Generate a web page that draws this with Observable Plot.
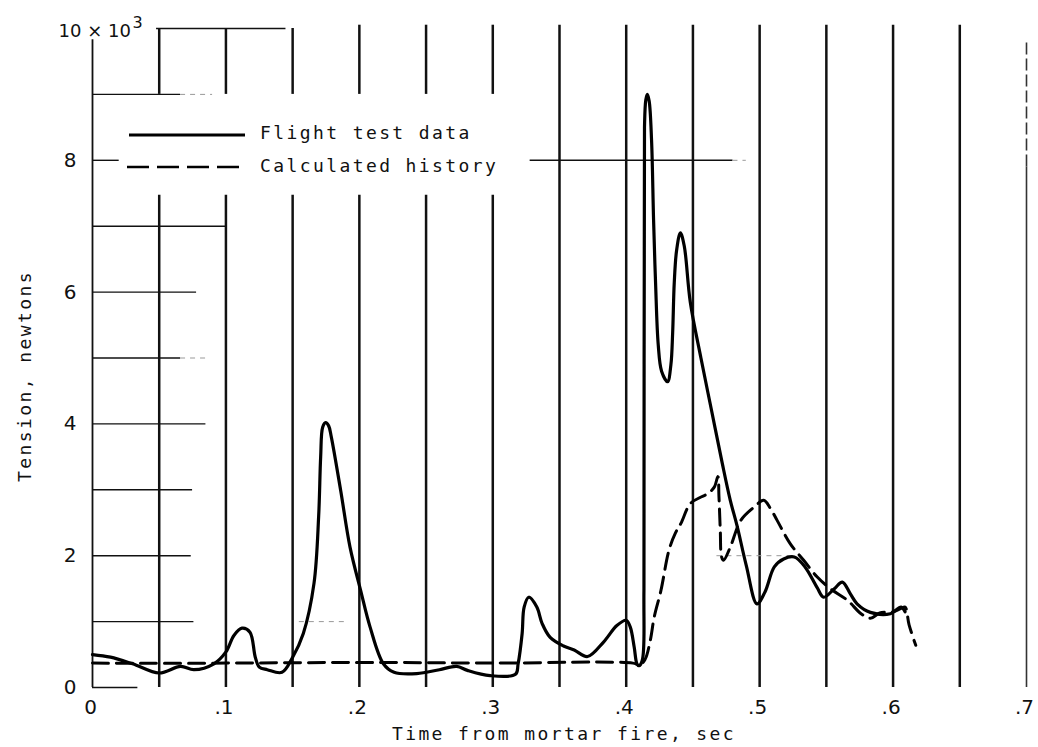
<!DOCTYPE html>
<html><head><meta charset="utf-8">
<script src="https://cdn.jsdelivr.net/npm/d3@7"></script>
<script src="https://cdn.jsdelivr.net/npm/@observablehq/plot@0.6"></script>
<style>body{margin:0;background:#fff}</style>
</head><body><div id="chart"></div>
<script>
// ---- Data (tension in thousands of newtons vs time in s) ----
const flightT = [0, 0.0135, 0.03, 0.05, 0.066, 0.076, 0.091, 0.1, 0.106, 0.112, 0.118, 0.122, 0.125, 0.131, 0.142, 0.150, 0.158, 0.166, 0.1695, 0.171, 0.1725, 0.1747, 0.177, 0.179, 0.186, 0.193, 0.201, 0.208, 0.218, 0.226, 0.243, 0.26, 0.273, 0.281, 0.298, 0.317, 0.319, 0.322, 0.3235, 0.327, 0.333, 0.337, 0.343, 0.353, 0.361, 0.371, 0.383, 0.393, 0.400, 0.403, 0.406, 0.408, 0.4095, 0.412, 0.4133, 0.4137, 0.4147, 0.4158, 0.4172, 0.419, 0.4205, 0.422, 0.424, 0.4265, 0.431, 0.4335, 0.4348, 0.436, 0.4378, 0.4406, 0.4435, 0.448, 0.456, 0.464, 0.472, 0.478, 0.483, 0.49, 0.498, 0.504, 0.511, 0.518, 0.526, 0.534, 0.543, 0.548, 0.556, 0.562, 0.568, 0.573, 0.583, 0.598, 0.606, 0.609];
const flightV = [0.50, 0.46, 0.36, 0.22, 0.32, 0.27, 0.36, 0.54, 0.79, 0.90, 0.84, 0.46, 0.31, 0.27, 0.23, 0.46, 0.82, 1.58, 2.6, 3.5, 3.95, 4.02, 3.97, 3.8, 2.99, 2.13, 1.47, 0.92, 0.36, 0.23, 0.21, 0.27, 0.32, 0.26, 0.18, 0.20, 0.36, 0.82, 1.22, 1.37, 1.22, 0.97, 0.76, 0.63, 0.57, 0.47, 0.69, 0.94, 1.02, 0.92, 0.61, 0.36, 0.33, 0.41, 1.5, 8.5, 8.92, 9.0, 8.9, 8.3, 7.1, 6.14, 5.2, 4.8, 4.64, 4.9, 5.38, 6.14, 6.64, 6.9, 6.7, 5.85, 5.0, 4.2, 3.4, 2.84, 2.46, 1.85, 1.27, 1.45, 1.83, 1.95, 1.98, 1.83, 1.52, 1.37, 1.50, 1.60, 1.42, 1.27, 1.14, 1.12, 1.22, 1.15];

const calcT = [0, 0.1, 0.2, 0.3, 0.405, 0.41, 0.414, 0.418, 0.421, 0.426, 0.432, 0.437, 0.441, 0.448, 0.455, 0.461, 0.466, 0.4687, 0.4695, 0.4705, 0.4715, 0.473, 0.478, 0.486, 0.496, 0.503, 0.508, 0.513, 0.523, 0.533, 0.543, 0.553, 0.566, 0.576, 0.583, 0.59, 0.6, 0.606, 0.609, 0.612, 0.617];
const calcV = [0.37, 0.37, 0.38, 0.37, 0.37, 0.34, 0.42, 0.71, 1.07, 1.47, 2.08, 2.35, 2.49, 2.79, 2.88, 2.94, 3.04, 3.2, 2.9, 2.39, 1.98, 1.93, 2.13, 2.54, 2.74, 2.84, 2.72, 2.54, 2.18, 1.93, 1.68, 1.50, 1.32, 1.12, 1.05, 1.13, 1.15, 1.2, 1.22, 0.95, 0.64];

const seriesNames = ["Flight test data", "Calculated history"];

const xTicks = [0, 0.1, 0.2, 0.3, 0.4, 0.5, 0.6, 0.7];
const xTickLabels = ["0", ".1", ".2", ".3", ".4", ".5", ".6", ".7"];
const yTicks = [0, 2, 4, 6, 8];
const yTickLabels = ["0", "2", "4", "6", "8"];
const yTopLabel = "10 × 10";
const yTopExp = "3";
const xTitle = "Time from mortar fire, sec";
const yTitle = "Tension, newtons";

// grid of the original chart paper
const gridT = [0.05, 0.1, 0.15, 0.2, 0.25, 0.3, 0.35, 0.4, 0.45, 0.5, 0.55, 0.6, 0.65];
const hLevels = [0, 1, 2, 3, 4, 5, 6, 7, 8, 9];
const hEnds = [0.034, 0.076, 0.074, 0.075, 0.085, 0.066, 0.078, 0.1, 0.02, 0.066];

// ---- build tables ----
const flight = flightT.map((t, i) => ({t, v: flightV[i]}));
const calc = calcT.map((t, i) => ({t, v: calcV[i]}));

const vSegs = [];
gridT.forEach(t => {
  if (t <= 0.3 + 1e-9) {
    vSegs.push({t, y1: 9.0, y2: t < 0.17 ? 10 : 10.05});
    vSegs.push({t, y1: 0, y2: 7.47});
  } else {
    vSegs.push({t, y1: 0, y2: 10.05});
  }
});
const hSegs = hLevels.map((y, i) => ({y, x1: 0, x2: hEnds[i]}));
hSegs.push({y: 10, x1: 0.048, x2: 0.145});
hSegs.push({y: 8, x1: 0.328, x2: 0.48});
const faint = [
  {y: 9, x1: 0.066, x2: 0.09},
  {y: 5, x1: 0.066, x2: 0.085},
  {y: 1, x1: 0.155, x2: 0.19},
  {y: 2, x1: 0.468, x2: 0.525},
  {y: 8, x1: 0.48, x2: 0.49}
];

const W = 1038, H = 747;
const tickFont = "DejaVu Sans, sans-serif";
const letterFont = "DejaVu Sans Mono, monospace";

const plot = Plot.plot({
  width: W, height: H,
  marginLeft: 92, marginRight: 12, marginTop: 28, marginBottom: 60,
  x: {domain: [0, 0.7], axis: null},
  y: {domain: [0, 10], axis: null},
  style: {background: "#fff", color: "#111"},
  marks: [
    Plot.ruleX(vSegs, {x: "t", y1: "y1", y2: "y2", stroke: "#111", strokeWidth: 2.5}),
    Plot.ruleX([0], {y1: 0, y2: 9.83, stroke: "#111", strokeWidth: 1.8}),
    Plot.ruleX([0.7], {y1: 0, y2: 7.9, stroke: "#333", strokeWidth: 1.6}),
    Plot.ruleX([0.7], {y1: 7.9, y2: 9.83, stroke: "#333", strokeWidth: 1.6, strokeDasharray: "12,4"}),
    Plot.ruleY(hSegs, {y: "y", x1: "x1", x2: "x2", stroke: "#111", strokeWidth: 1.4}),
    Plot.ruleY(faint, {y: "y", x1: "x1", x2: "x2", stroke: "#999", strokeWidth: 1, strokeDasharray: "5,5"}),
    Plot.line(calc, {x: "t", y: "v", stroke: "#000", strokeWidth: 3, strokeDasharray: "16,8", curve: "catmull-rom"}),
    Plot.line(flight, {x: "t", y: "v", stroke: "#000", strokeWidth: 3.2, curve: "catmull-rom"}),
    Plot.text(xTicks, {x: d => d, y: 0, text: (d, i) => xTickLabels[i], dy: 20, dx: -2, fontSize: 20, fontFamily: tickFont, fill: "#111"}),
    Plot.text(yTicks, {x: 0, y: d => d, text: (d, i) => yTickLabels[i], textAnchor: "end", dx: -16, fontSize: 20, fontFamily: tickFont, fill: "#111"}),
    Plot.text([10], {x: 0, y: d => d, text: () => yTopLabel, textAnchor: "start", dx: -34, dy: 3, fontSize: 18, fontFamily: tickFont, fill: "#111"}),
    Plot.text([10], {x: 0, y: d => d, text: () => yTopExp, textAnchor: "start", dx: 40, dy: -6, fontSize: 16, fontFamily: tickFont, fill: "#111"})
  ]
});

document.getElementById("chart").appendChild(plot);

// ---- legend and axis titles ----
const svg = d3.select(plot);
const g = svg.append("g").attr("fill", "#111").attr("font-family", letterFont).attr("font-size", 18)
  .attr("text-anchor", "start").style("letter-spacing", "2.4px");
g.append("line").attr("x1", 129).attr("x2", 245).attr("y1", 135).attr("y2", 135).attr("stroke", "#000").attr("stroke-width", 3);
g.append("line").attr("x1", 127).attr("x2", 242).attr("y1", 167).attr("y2", 167).attr("stroke", "#000").attr("stroke-width", 2.6).attr("stroke-dasharray", "22,8");
g.append("text").attr("x", 260).attr("y", 139).attr("text-anchor", "start").text(seriesNames[0]);
g.append("text").attr("x", 260).attr("y", 172).attr("text-anchor", "start").text(seriesNames[1]);
g.append("text").attr("x", 564).attr("y", 740).attr("text-anchor", "middle").text(xTitle);
g.append("text").attr("transform", "translate(31,376) rotate(-90)").attr("text-anchor", "middle").text(yTitle);
</script>
</body></html>
